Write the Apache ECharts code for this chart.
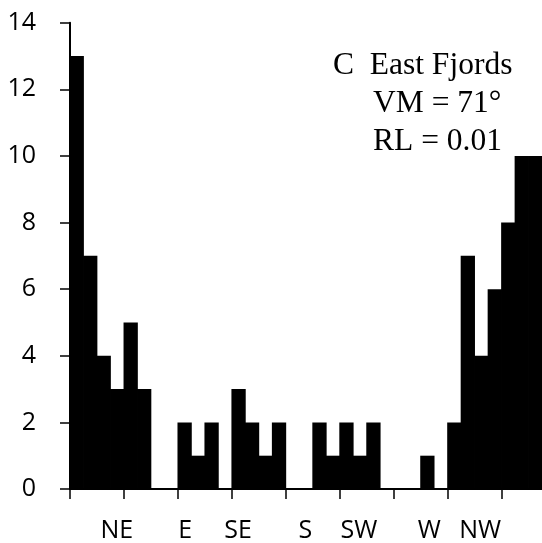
<!DOCTYPE html>
<html><head><meta charset="utf-8">
<script src="https://cdn.jsdelivr.net/npm/echarts@6/dist/echarts.min.js"></script>
<style>html,body{margin:0;padding:0;background:#fff}#c{width:542px;height:543px}</style>
</head><body><div id="c"></div>
<script>
// Counts per 10-degree bin (35 visible bins)
const binValues = [13,7,4,3,5,3,0,0,2,1,2,0,3,2,1,2,0,0,2,1,2,1,2,0,0,0,1,0,2,7,4,6,8,10,10];
// Direction labels and their positions (in bin units from the left axis)
const dirLabels = ['NE','E','SE','S','SW','W','NW'];
const dirPositions = [3.47,8.54,12.47,17.45,21.43,26.65,30.41];
// Tick positions along the x axis (bin boundaries)
const tickPositions = [0,4,8,12,16,20,24,28,32];
const yMin = 0, yMax = 14, yStep = 2;
const annotationLines = ['C  East Fjords','VM = 71°','RL = 0.01'];

const categories = binValues.map((v, i) => String(i));
const sans = 'Open Sans';
const serif = 'Liberation Serif';

const chart = echarts.init(document.getElementById('c'), null, {renderer: 'canvas'});
chart.setOption({
  animation: false,
  backgroundColor: '#fff',
  title: {
    left: 333, top: 47, padding: 0,
    text: '{a|' + annotationLines[0] + '}\n' + annotationLines.slice(1).map(s => '{b|' + s + '}').join('\n'),
    textStyle: {
      fontWeight: 'normal',
      rich: {
        a: {fontFamily: serif, fontSize: 31.5, fontWeight: 'normal', lineHeight: 38, color: '#000'},
        b: {fontFamily: serif, fontSize: 31.5, fontWeight: 'normal', lineHeight: 38, color: '#000', padding: [0, 0, 0, 40]}
      }
    }
  },
  grid: {left: 70, right: 0, top: 22.7, bottom: 53.7, containLabel: false},
  xAxis: [
    {
      type: 'category', data: categories, position: 'bottom', boundaryGap: true,
      axisLine: {show: true, lineStyle: {color: '#000', width: 2}},
      axisTick: {show: false}, axisLabel: {show: false}, splitLine: {show: false}
    },
    {
      type: 'value', min: 0, max: binValues.length, position: 'bottom', offset: 0,
      axisLine: {show: false},
      axisTick: {show: true, customValues: tickPositions, length: 10, lineStyle: {color: '#000', width: 1.5}},
      axisLabel: {
        show: true, customValues: dirPositions, margin: 29,
        fontFamily: sans, fontSize: 25, color: '#000',
        formatter: function (val) {
          let best = 0, bd = Infinity;
          dirPositions.forEach((p, i) => { const d = Math.abs(p - val); if (d < bd) { bd = d; best = i; } });
          return dirLabels[best];
        }
      },
      splitLine: {show: false}
    }
  ],
  yAxis: {
    type: 'value', min: yMin, max: yMax, interval: yStep,
    axisLine: {show: true, lineStyle: {color: '#000', width: 2}},
    axisTick: {show: true, length: 10, lineStyle: {color: '#000', width: 1.5}},
    axisLabel: {margin: 34, fontFamily: sans, fontSize: 25, color: '#000'},
    splitLine: {show: false}
  },
  series: [{
    type: 'bar', xAxisIndex: 0, yAxisIndex: 0,
    data: binValues, barWidth: '106%', barGap: '-100%',
    itemStyle: {color: '#000'}
  }]
});
</script>
</body></html>
